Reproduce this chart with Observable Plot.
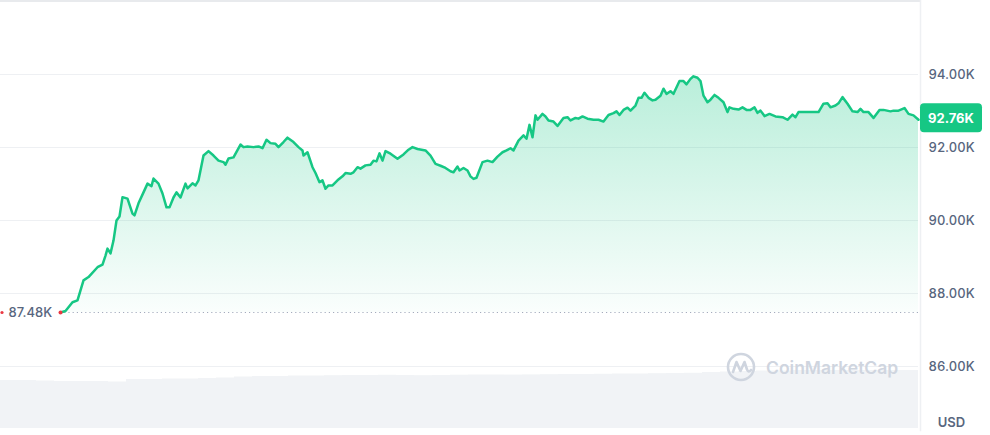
<!DOCTYPE html>
<html><head><meta charset="utf-8">
<script src="https://cdn.jsdelivr.net/npm/d3@7"></script>
<script src="https://cdn.jsdelivr.net/npm/@observablehq/plot@0.6"></script>
<style>
html,body{margin:0;padding:0;background:#fff;}
#chart{position:relative;width:990px;height:435px;font-family:Inter,sans-serif;}
#chart svg{position:absolute;left:0;top:0;}
</style></head><body><div id="chart"></div>
<script>
// time position of each sample (sample steps of ~1.7 min) and BTC price in thousands USD
const steps = [0,5,12,17,23,28,37,42,45,47,50,53,56,59,62,67,72,74,78,83,87,91,93,98,102,106,109,113,116,120,125,127,132,135,138,143,148,153,158,163,165,168,173,180,183,187,193,198,202,206,210,215,218,223,227,233,238,242,243,247,252,255,259,262,265,268,272,277,282,285,290,293,297,300,305,310,313,316,319,322,325,330,337,343,348,352,357,365,370,375,380,385,390,393,397,399,403,407,410,413,416,422,427,432,437,442,446,450,453,458,463,466,469,472,475,477,482,485,488,493,497,503,507,510,515,518,522,527,533,538,543,548,553,556,559,563,567,570,575,578,581,584,588,592,595,600,603,606,610,613,619,623,626,630,633,637,640,643,647,650,654,658,663,667,669,673,678,682,686,690,694,697,700,704,709,715,722,727,732,735,738,747,753,758,763,767,770,775,778,782,787,792,797,800,803,808,813,819,823,830,833,838,844,848,853,858];
const prices = [87.48,87.52,87.76,87.81,88.36,88.45,88.72,88.79,89.04,89.23,89.10,89.45,90.00,90.11,90.64,90.60,90.19,90.14,90.47,90.77,91.01,90.94,91.15,91.01,90.74,90.36,90.36,90.63,90.77,90.63,91.01,90.88,91.02,90.96,91.10,91.78,91.90,91.78,91.64,91.60,91.53,91.70,91.73,92.08,92.01,92.03,92.01,92.03,91.98,92.21,92.12,92.10,92.01,92.15,92.27,92.15,92.01,91.92,91.78,91.87,91.46,91.30,91.05,91.10,90.87,90.96,90.96,91.10,91.21,91.30,91.28,91.32,91.46,91.42,91.51,91.53,91.64,91.62,91.84,91.64,91.90,91.83,91.69,91.81,91.94,92.01,91.96,91.92,91.78,91.55,91.50,91.44,91.35,91.32,91.48,91.37,91.44,91.37,91.21,91.14,91.17,91.60,91.64,91.60,91.75,91.87,91.92,91.98,91.92,92.19,92.33,92.24,92.62,92.28,92.88,92.76,92.92,92.85,92.74,92.71,92.59,92.81,92.83,92.74,92.81,92.79,92.85,92.79,92.76,92.76,92.71,92.89,92.94,92.99,92.89,93.03,93.09,93.01,93.15,93.36,93.36,93.50,93.36,93.29,93.31,93.42,93.61,93.47,93.54,93.47,93.82,93.82,93.73,93.88,93.95,93.91,93.82,93.42,93.24,93.31,93.44,93.36,93.24,92.97,93.10,93.06,93.04,93.10,93.03,93.03,93.10,92.95,93.01,92.86,92.92,92.85,92.83,92.76,92.90,92.83,92.97,92.97,92.97,92.97,93.20,93.21,93.10,93.15,93.21,93.38,93.20,92.99,92.97,93.06,92.97,92.97,92.81,93.03,93.03,92.99,93.01,93.01,93.08,92.92,92.88,92.76];
// rolling 24h volume (relative units), one bar per 18 steps starting at step -60
const volumes = [48,48,47.5,47,47,47,46.5,49,49,49.5,49.5,50,50.5,51.5,52,52,52.5,52.5,52.8,53,53,53.2,53,52.8,53,53.3,53.5,53.5,53.4,53.6,53.8,54,54,54.2,54.5,54.5,54.8,55,55.2,56,56.5,57,57.5,57.5,58,58,58,58,58,58,58];
const yTicks = [86, 88, 90, 92, 94];
const xDomain = [-60, 858];
const yDomain = [84.247, 96.027];
const volBin = 18;

const green = "#16c784", red = "#ea3943", txt = "#58667e", wm = "#cfd5df";
const data = steps.map((s, i) => ({step: s, price: prices[i]}));
const first = data[0], last = data[data.length - 1];
const vol = volumes.map((v, i) => ({t: xDomain[0] + i * volBin, v}));
const fmtK = d => d.toFixed(2) + "K";

const W = 990, H = 435, MR = 72;

const volPlot = Plot.plot({
  width: W, height: H, marginLeft: 0, marginRight: MR, marginTop: 368, marginBottom: 7,
  style: {background: "#fff"},
  x: {domain: xDomain, axis: null},
  y: {domain: [0, 60], axis: null},
  marks: [
    Plot.rectY(vol, {x1: "t", x2: d => d.t + volBin, y: "v", fill: "#f1f3f6", inset: 0})
  ]
});

function gradientDefs() {
  const defs = d3.create("svg:defs");
  const g = defs.append("linearGradient").attr("id", "fillGrad")
    .attr("x1", 0).attr("x2", 0).attr("y1", 0).attr("y2", 1);
  g.append("stop").attr("offset", "0%").attr("stop-color", green).attr("stop-opacity", 0.3);
  g.append("stop").attr("offset", "100%").attr("stop-color", green).attr("stop-opacity", 0.02);
  return defs.node();
}

function priceTag(index, scales, values, dims) {
  const y = scales.y(last.price);
  const x0 = dims.width - dims.marginRight + 2;
  const g = d3.create("svg:g");
  g.append("rect").attr("x", x0).attr("y", y - 16).attr("width", 62).attr("height", 29)
    .attr("rx", 4).attr("fill", green);
  g.append("text").attr("x", x0 + 31).attr("y", y - 1).attr("dy", "0.35em")
    .attr("text-anchor", "middle").attr("fill", "#fff").attr("font-weight", 700)
    .attr("font-size", 13).attr("font-family", "Inter, sans-serif").text(fmtK(last.price));
  return g.node();
}

function watermark(index, scales, values, dims) {
  const right = dims.width - dims.marginRight;
  const cx = right - 177, cy = 367;
  const g = d3.create("svg:g");
  g.append("circle").attr("cx", cx).attr("cy", cy).attr("r", 13)
    .attr("fill", "none").attr("stroke", wm).attr("stroke-width", 2.6);
  g.append("path")
    .attr("d", `M${cx-8},${cy+5} L${cx-4.5},${cy-5} L${cx-0.5},${cy+4} L${cx+3.5},${cy-5} L${cx+6},${cy+2.5} Q${cx+7.5},${cy+6} ${cx+10},${cy+3}`)
    .attr("fill", "none").attr("stroke", wm).attr("stroke-width", 2.6)
    .attr("stroke-linejoin", "round").attr("stroke-linecap", "round");
  g.append("text").attr("x", cx + 25).attr("y", cy + 1).attr("dy", "0.35em")
    .attr("text-anchor", "start")
    .attr("fill", wm).attr("font-size", 17.5).attr("font-weight", 600)
    .attr("font-family", "Inter, sans-serif").text("CoinMarketCap");
  return g.node();
}

const mainPlot = Plot.plot({
  width: W, height: H, marginLeft: 0, marginRight: MR, marginTop: 0, marginBottom: 5,
  style: {background: "transparent", fontFamily: "Inter, sans-serif", overflow: "visible"},
  x: {domain: xDomain, axis: null},
  y: {domain: yDomain},
  marks: [
    gradientDefs,
    Plot.gridY(yTicks, {stroke: "#eef0f3", strokeOpacity: 1}),
    Plot.frame({anchor: "top", stroke: "#e8eaed", strokeWidth: 3}),
    Plot.frame({anchor: "right", stroke: "#eef0f3", strokeWidth: 1.5, dx: 2}),
    Plot.axisY(yTicks, {anchor: "right", tickSize: 0, tickPadding: 10, tickFormat: fmtK,
      fontSize: 13, fontWeight: 500, color: txt, label: null}),
    Plot.areaY(data, {x: "step", y1: first.price, y2: "price", fill: "url(#fillGrad)"}),
    Plot.ruleY([first], {y: "price", x1: first.step, x2: last.step, stroke: "#a3abbd", strokeDasharray: "1.2,3"}),
    Plot.lineY(data, {x: "step", y: "price", stroke: green, strokeWidth: 2.5}),
    Plot.dot([first], {x: "step", y: "price", r: 2, fill: red}),
    Plot.dot([first], {y: "price", frameAnchor: "left", dx: 1.5, r: 1.6, fill: red}),
    Plot.text([first], {y: "price", frameAnchor: "left", dx: 8, textAnchor: "start",
      text: d => fmtK(d.price), fill: txt, fontSize: 13, fontWeight: 500}),
    Plot.text(["USD"], {frameAnchor: "bottom-right", dx: 33, dy: -8, lineAnchor: "middle",
      textAnchor: "middle", fill: txt, fontSize: 13, fontWeight: 600}),
    watermark,
    priceTag
  ]
});

const el = document.getElementById("chart");
el.appendChild(volPlot);
el.appendChild(mainPlot);
</script></body></html>
